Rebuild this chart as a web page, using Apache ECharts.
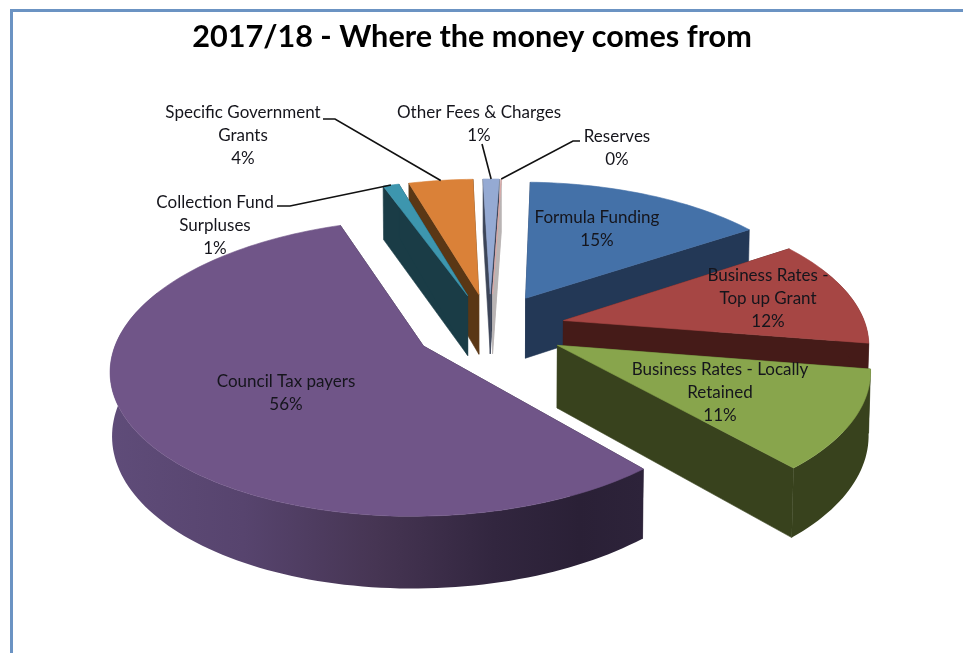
<!DOCTYPE html>
<html>
<head>
<meta charset="utf-8">
<title>2017/18 - Where the money comes from</title>
<script src="https://cdn.jsdelivr.net/npm/echarts@6/dist/echarts.min.js"></script>
<style>html,body{margin:0;padding:0;background:#fff}#chart{width:963px;height:653px}</style>
</head>
<body>
<div id="chart"></div>
<script>
// Funding sources, clockwise from the top of the pie
const categories = [
  'Formula Funding',
  'Business Rates -\nTop up Grant',
  'Business Rates - Locally\nRetained',
  'Council Tax payers',
  'Collection Fund\nSurpluses',
  'Specific Government\nGrants',
  'Other Fees & Charges',
  'Reserves'
];
const percentages = [15, 12, 11, 56, 1, 4, 1, 0];

const topColours = ['#4471a8', '#a64644', '#88a54c', '#705588', '#3d96ae', '#da8138', '#95aad3', '#e3a5a3'];
const wallColours = ['#233856', '#451b18', '#38421d', '#2e2339', '#1a3c46', '#5a3715', '#3c4558', '#b9b4b4'];

// Centre of each label block, plus the elbow of its leader line where it has one
const labelLayout = [
  { x: 597, y: 229 },
  { x: 768, y: 299 },
  { x: 720, y: 393 },
  { x: 286, y: 393 },
  { x: 215, y: 226, leader: [[277, 206], [290, 206]] },
  { x: 243, y: 136, leader: [[323, 119], [335, 119]] },
  { x: 479, y: 124, leader: [[482, 144]] },
  { x: 617, y: 148, leader: [[580, 141], [573, 141]] }
];

// Perspective camera for the tilted pie (unit radius, depth measured downward)
const camera = { cx: 490, cy: 328, ax: 303, by: 140.4, persp: 0.142, depth: 62, shrink: 0.005 };
const explode = 0.25;
const startAngle = 2;

const total = percentages.reduce((a, b) => a + b, 0);
const rad = d => d * Math.PI / 180;

const slices = [];
percentages.reduce((from, v) => {
  const to = from + v / total * 360;
  slices.push({ from, to, mid: (from + to) / 2 });
  return to;
}, startAngle);

function project(X, Y, down) {
  const w = 1 + camera.persp * Y + camera.shrink * down;
  return [
    camera.cx + camera.ax * X / w,
    camera.cy + (-camera.by * Y + camera.depth * down) / w
  ];
}

// Point on a slice, pushed out along its mid-angle
function slicePoint(s, angle, r, down) {
  const X = explode * Math.sin(rad(s.mid)) + r * Math.sin(rad(angle));
  const Y = explode * Math.cos(rad(s.mid)) + r * Math.cos(rad(angle));
  return project(X, Y, down);
}

function arcAngles(from, to) {
  const n = Math.max(1, Math.ceil((to - from) / 1.5));
  const out = [];
  for (let i = 0; i <= n; i++) out.push(from + (to - from) * i / n);
  return out;
}

function poly(points, fill, stroke) {
  return {
    type: 'polygon',
    shape: { points },
    style: { fill, stroke: stroke || fill, lineWidth: 0.6 }
  };
}

function radialWall(s, angle, colour) {
  return poly([
    slicePoint(s, angle, 0, 0), slicePoint(s, angle, 1, 0),
    slicePoint(s, angle, 1, 1), slicePoint(s, angle, 0, 1)
  ], colour);
}

const councilWall = new echarts.graphic.LinearGradient(0, 0, 1, 0, [
  { offset: 0, color: '#5f4c79' },
  { offset: 0.25, color: '#57446e' },
  { offset: 0.5, color: '#463553' },
  { offset: 0.72, color: '#32263f' },
  { offset: 0.88, color: '#2a2036' },
  { offset: 1, color: '#2d233a' }
]);

function renderSlice(params, api) {
  const i = api.value(0);
  const s = slices[i];
  const wall = wallColours[i];
  const children = [radialWall(s, s.from, wall), radialWall(s, s.to, wall)];

  // The rim is only seen from the near side; the top face hides whatever lies behind it
  const front = arcAngles(s.from, s.to).filter(a => Math.cos(rad(a)) < 0.4);
  if (front.length > 1) {
    const upper = front.map(a => slicePoint(s, a, 1, 0));
    const lower = front.slice().reverse().map(a => slicePoint(s, a, 1, 1));
    const fill = categories[i] === 'Council Tax payers' ? councilWall : wall;
    children.push({
      type: 'polygon',
      shape: { points: upper.concat(lower) },
      style: { fill, lineWidth: 0 }
    });
  }

  const top = [slicePoint(s, s.from, 0, 0)].concat(
    arcAngles(s.from, s.to).map(a => slicePoint(s, a, 1, 0))
  );
  children.push(poly(top, topColours[i]));
  return { type: 'group', children };
}

function renderLabel(params, api) {
  const i = api.value(0);
  const v = api.value(1);
  const pos = labelLayout[i];
  const children = [];
  if (pos.leader) {
    const s = slices[i];
    children.push({
      type: 'polyline',
      shape: { points: pos.leader.concat([slicePoint(s, s.mid, 1, 0)]) },
      style: { stroke: '#111', lineWidth: 1.6, fill: null }
    });
  }
  children.push({
    type: 'text',
    style: {
      text: categories[i] + '\n' + v + '%',
      x: pos.x,
      y: pos.y,
      align: 'center',
      verticalAlign: 'middle',
      font: '17px Lato, sans-serif',
      lineHeight: 23,
      fill: '#15151c'
    }
  });
  return { type: 'group', children };
}

// Far slices are painted first so nearer ones overlap them
const paintOrder = percentages
  .map((v, i) => i)
  .sort((a, b) => Math.cos(rad(slices[b].mid)) - Math.cos(rad(slices[a].mid)));

const chart = echarts.init(document.getElementById('chart'), null, { renderer: 'canvas' });
chart.setOption({
  animation: false,
  backgroundColor: '#ffffff',
  title: {
    text: '2017/18 - Where the money comes from',
    left: 467,
    top: 17,
    textAlign: 'center',
    textStyle: { fontFamily: 'Lato, sans-serif', fontWeight: 'bold', fontSize: 30.6, color: '#000' }
  },
  graphic: [{
    type: 'polyline',
    shape: { points: [[11.5, 653], [11.5, 10.5], [963, 10.5]] },
    style: { stroke: '#6b93c3', lineWidth: 3, fill: null },
    silent: true
  }],
  series: [
    {
      type: 'custom',
      coordinateSystem: 'none',
      renderItem: renderSlice,
      data: paintOrder.map(i => [i, percentages[i]]),
      silent: true,
      z: 2
    },
    {
      type: 'custom',
      coordinateSystem: 'none',
      renderItem: renderLabel,
      data: percentages.map((v, i) => [i, v]),
      silent: true,
      z: 3
    }
  ]
});
</script>
</body>
</html>
